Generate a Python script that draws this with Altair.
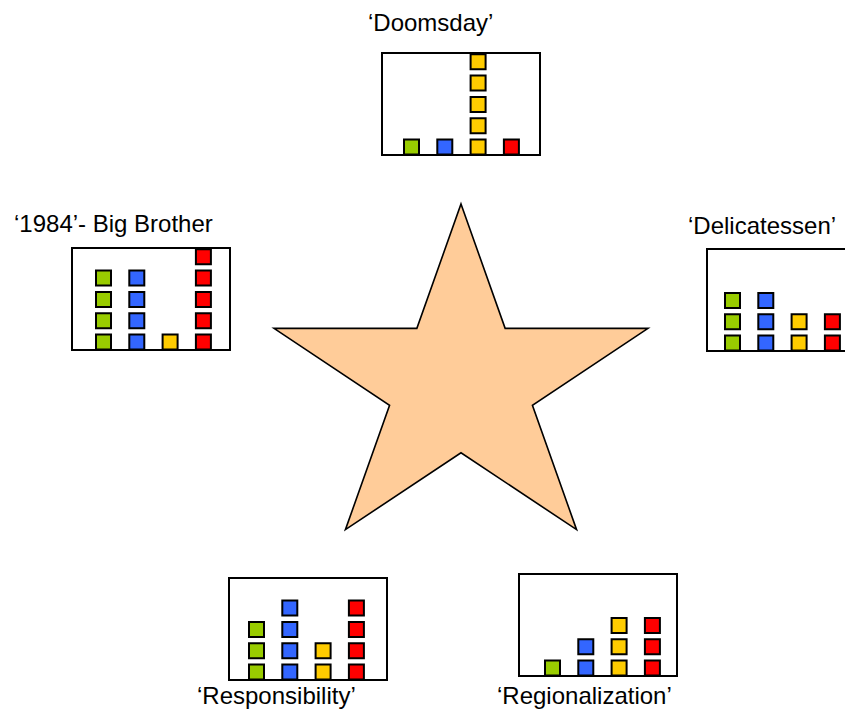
import altair as alt
import pandas as pd
import numpy as np

# ---------------- data ----------------
categories = ["green", "blue", "yellow", "red"]
colors = ["#99CC00", "#3366FF", "#FFCC00", "#FF0000"]

panels = ["‘Doomsday’", "‘1984’- Big Brother", "‘Delicatessen’",
          "‘Responsibility’", "‘Regionalization’"]
green_counts = [1, 4, 3, 3, 1]
blue_counts = [1, 4, 3, 4, 2]
yellow_counts = [5, 1, 2, 2, 3]
red_counts = [1, 5, 2, 4, 3]

# ---------------- layout (page pixels) ----------------
box_left = [382, 72, 707, 229, 519]
box_top = [53, 248, 249, 578, 574]
box_w = 158
box_h = 102
first_col = [411.5, 103.5, 732.5, 256.5, 552.5]
col_pitch = 33.3
row_pitch = 21.3
half = 7.5
label_x = [368, 14, 688, 197, 497]
label_y = [31, 232, 234, 704, 704]

star_cx, star_cy = 461, 384
star_rx, star_ry = 196.6, 180.0
star_inner = 0.382

X0, X1, Y0, Y1 = 8, 845, 8, 707
xs = alt.Scale(domain=[X0, X1], nice=False, zero=False)
ys = alt.Scale(domain=[Y0, Y1], nice=False, zero=False, reverse=True)

# boxes
boxes = pd.DataFrame({
    "x": box_left,
    "x2": [l + box_w for l in box_left],
    "y": box_top,
    "y2": [t + box_h for t in box_top],
})

# unit squares built from the counts
rows = []
for p in range(len(panels)):
    counts = [green_counts[p], blue_counts[p], yellow_counts[p], red_counts[p]]
    for c, n in enumerate(counts):
        cx = first_col[p] + c * col_pitch
        for j in range(n):
            cy = box_top[p] + box_h - 8 - j * row_pitch
            rows.append(dict(x=cx - half, x2=cx + half, y=cy - half, y2=cy + half,
                             cat=categories[c], panel=panels[p]))
squares = pd.DataFrame(rows)

labels = pd.DataFrame({"x": label_x, "y": label_y, "text": panels})

# star shape as a custom symbol path (units of star_rx)
pts = []
for k in range(10):
    th = np.deg2rad(k * 36)
    r = 1.0 if k % 2 == 0 else star_inner
    px = r * np.sin(th)
    py = -r * np.cos(th) * (star_ry / star_rx)
    pts.append(f"{px:.4f},{py:.4f}")
star_path = "M" + " L".join(pts) + " Z"
star_df = pd.DataFrame({"x": [star_cx], "y": [star_cy]})

star = alt.Chart(star_df).mark_point(
    shape=star_path, filled=True, fill="#FFCC99", stroke="#000000",
    strokeWidth=1.6, size=(2 * star_rx) ** 2, opacity=1, fillOpacity=1, strokeOpacity=1
).encode(
    x=alt.X("x:Q", scale=xs, axis=None),
    y=alt.Y("y:Q", scale=ys, axis=None),
)

box_layer = alt.Chart(boxes).mark_rect(
    fill="white", stroke="black", strokeWidth=2, clip=True
).encode(
    x=alt.X("x:Q", scale=xs, axis=None), x2="x2:Q",
    y=alt.Y("y:Q", scale=ys, axis=None), y2="y2:Q",
)

sq_layer = alt.Chart(squares).mark_rect(
    stroke="black", strokeWidth=2
).encode(
    x=alt.X("x:Q", scale=xs, axis=None), x2="x2:Q",
    y=alt.Y("y:Q", scale=ys, axis=None), y2="y2:Q",
    color=alt.Color("cat:N", scale=alt.Scale(domain=categories, range=colors), legend=None),
)

text_layer = alt.Chart(labels).mark_text(
    align="left", baseline="alphabetic", font="Liberation Sans", fontSize=24, color="black"
).encode(
    x=alt.X("x:Q", scale=xs, axis=None),
    y=alt.Y("y:Q", scale=ys, axis=None),
    text="text:N",
)

chart = alt.layer(star, box_layer, sq_layer, text_layer).properties(
    width=X1 - X0, height=Y1 - Y0, padding=0, background="white"
).configure_view(stroke=None)

chart.save("out.html", embed_options={"renderer": "svg", "actions": False})
